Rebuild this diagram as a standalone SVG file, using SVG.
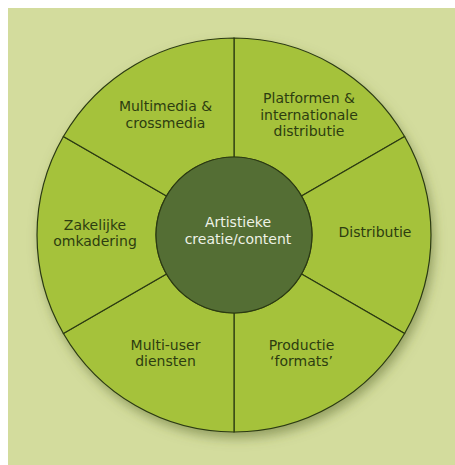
<svg xmlns="http://www.w3.org/2000/svg" width="455" height="465" viewBox="0 0 455 465">
  <defs>
    <filter id="shadow" x="-20%" y="-20%" width="140%" height="140%">
      <feGaussianBlur in="SourceAlpha" stdDeviation="6"/>
      <feOffset dx="3" dy="6" result="b"/>
      <feFlood flood-color="#5d6b2e" flood-opacity="0.55"/>
      <feComposite in2="b" operator="in"/>
    </filter>
  </defs>
  <style>
    .sector { fill: #a5c23b; stroke: #2b3a12; stroke-width: 1.2; }
    .label { font-family: "DejaVu Sans", Verdana, sans-serif; font-size: 14px; fill: #2d3d10; text-anchor: middle; }
    .core { fill: #546e34; stroke: #2b3a12; stroke-width: 1.2; }
    .corelabel { font-family: "DejaVu Sans", Verdana, sans-serif; font-size: 14px; fill: #eef2e6; text-anchor: middle; }
  </style>
  <rect x="0" y="0" width="455" height="465" fill="#ffffff"/>
  <rect x="8" y="8" width="447" height="457" fill="#d3dc9d"/>
  <circle cx="234" cy="235" r="197" fill="#000" filter="url(#shadow)"/>

  <g id="connectors"/>

  <g id="platformen">
    <path class="sector" d="M234,38 A197,197 0 0 1 404.6,136.5 L301.55,196 A78,78 0 0 0 234,157 Z"/>
    <text class="label" x="309" y="103">Platformen &amp;</text>
    <text class="label" x="309" y="119.5">internationale</text>
    <text class="label" x="309" y="136">distributie</text>
  </g>
  <g id="distributie">
    <path class="sector" d="M404.6,136.5 A197,197 0 0 1 404.6,333.5 L301.55,274 A78,78 0 0 0 301.55,196 Z"/>
    <text class="label" x="375" y="237">Distributie</text>
  </g>
  <g id="productie">
    <path class="sector" d="M404.6,333.5 A197,197 0 0 1 234,432 L234,313 A78,78 0 0 0 301.55,274 Z"/>
    <text class="label" x="301.5" y="349.5">Productie</text>
    <text class="label" x="301.5" y="366">‘formats’</text>
  </g>
  <g id="multiuser">
    <path class="sector" d="M234,432 A197,197 0 0 1 63.4,333.5 L166.45,274 A78,78 0 0 0 234,313 Z"/>
    <text class="label" x="165.5" y="349.5">Multi-user</text>
    <text class="label" x="165.5" y="366">diensten</text>
  </g>
  <g id="zakelijke">
    <path class="sector" d="M63.4,333.5 A197,197 0 0 1 63.4,136.5 L166.45,196 A78,78 0 0 0 166.45,274 Z"/>
    <text class="label" x="95" y="229.5">Zakelijke</text>
    <text class="label" x="95" y="246">omkadering</text>
  </g>
  <g id="multimedia">
    <path class="sector" d="M63.4,136.5 A197,197 0 0 1 234,38 L234,157 A78,78 0 0 0 166.45,196 Z"/>
    <text class="label" x="165.5" y="111">Multimedia &amp;</text>
    <text class="label" x="165.5" y="127.5">crossmedia</text>
  </g>
  <g id="artistieke">
    <circle class="core" cx="234" cy="235" r="78"/>
    <text class="corelabel" x="238" y="227">Artistieke</text>
    <text class="corelabel" x="238" y="243.5">creatie/content</text>
  </g>
</svg>
